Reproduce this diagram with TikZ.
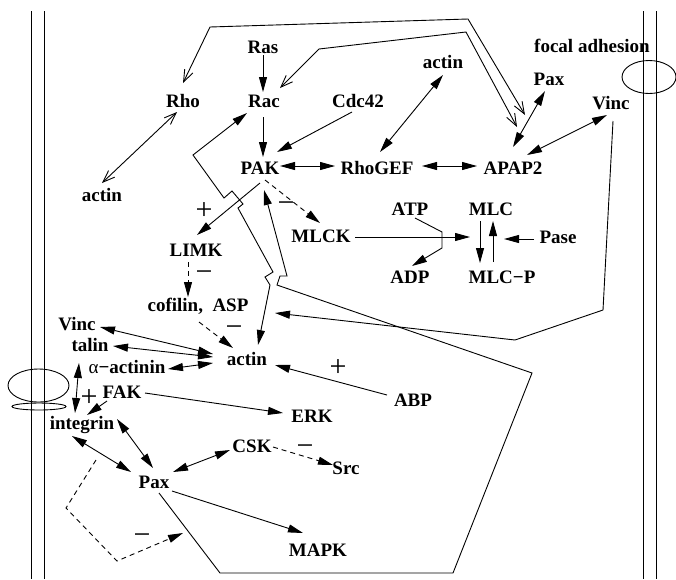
\documentclass[tikz,border=0pt]{standalone}
\usepackage{fontspec}
\setmainfont{Liberation Serif}
\usetikzlibrary{arrows.meta}
\begin{document}
\begin{tikzpicture}[x=1pt,y=-1pt,
  lab/.style={font=\bfseries\fontsize{19}{19}\selectfont, inner sep=0pt, anchor=base},
  sgn/.style={font=\fontsize{30}{30}\selectfont, inner sep=0pt},
  conn/.style={line width=0.9pt},
  arr/.style={conn, -{Triangle[length=15pt,width=8pt]}},
  darr/.style={conn, {Triangle[length=15pt,width=8pt]}-{Triangle[length=15pt,width=8pt]}},
  oarr/.style={conn, {Straight Barb[length=12pt,width=9pt]}-{Straight Barb[length=12pt,width=9pt]}},
  dsh/.style={dash pattern=on 5pt off 4pt},
  membrane/.style={line width=0.9pt}
]
\useasboundingbox (0,0) rectangle (676,579);

% cell membranes with adhesion sites
\draw[membrane] (31,11) -- (31,579);
\draw[membrane] (44,11) -- (44,579);
\draw[membrane] (643,11) -- (643,579);
\draw[membrane] (656,11) -- (656,579);
\draw[membrane] (649,77) ellipse [x radius=27pt, y radius=16.5pt];
\draw[membrane] (38.5,385.5) ellipse [x radius=30.5pt, y radius=16.5pt];
\draw[membrane] (39,406.5) ellipse [x radius=27pt, y radius=3.5pt];

% molecules
\node[lab] (ras) at (263,53) {Ras};
\node[lab] (rho) at (183,107) {Rho};
\node[lab] (rac) at (264,107) {Rac};
\node[lab] (cdc) at (358,107) {Cdc42};
\node[lab] (actT) at (443,68) {actin};
\node[lab] (focal) at (592,52) {focal adhesion};
\node[lab] (paxT) at (549,85) {Pax};
\node[lab] (vincT) at (611,109) {Vinc};
\node[lab] (pak) at (260,174) {PAK};
\node[lab] (rgef) at (377,174) {RhoGEF};
\node[lab] (apap) at (513,174) {APAP2};
\node[lab] (actL) at (102,201) {actin};
\node[lab] (atp) at (410,215) {ATP};
\node[lab] (mlc) at (491,215) {MLC};
\node[lab] (mlck) at (321,242) {MLCK};
\node[lab] (pase) at (558,243) {Pase};
\node[lab] (adp) at (410,283) {ADP};
\node[lab] (mlcp) at (502,283) {MLC−P};
\node[lab] (limk) at (196,256) {LIMK};
\node[lab] (cof) at (198,311) {cofilin,\ \ ASP};
\node[lab] (vincL) at (77,330) {Vinc};
\node[lab] (talin) at (90,351) {talin};
\node[lab] (aact) at (127,373) {{\mdseries α}−actinin};
\node[lab] (actC) at (247,365) {actin};
\node[lab] (abp) at (413,406) {ABP};
\node[lab] (fak) at (122,398) {FAK};
\node[lab] (erk) at (312,422) {ERK};
\node[lab] (integ) at (82,429) {integrin};
\node[lab] (csk) at (252,452) {CSK};
\node[lab] (src) at (346,474) {Src};
\node[lab] (paxB) at (154,488) {Pax};
\node[lab] (mapk) at (318,556) {MAPK};

% activation / inhibition marks
\node[sgn] (s1) at (204,211) {+};
\node[sgn] (s2) at (286,207) {−};
\node[sgn] (s3) at (204,276) {−};
\node[sgn] (s4) at (234,331) {−};
\node[sgn] (s5) at (338,368) {+};
\node[sgn] (s6) at (89,398) {+};
\node[sgn] (s7) at (305,450) {−};
\node[sgn] (s8) at (142,539) {−};

% upper signalling
\draw[arr] ([shift={(0,2)}]ras.base) -- ([shift={(-1,-15)}]rac.base);
\draw[arr] ([shift={(-1,10)}]rac.base) -- ([shift={(3,-17)}]pak.base);
\draw[arr] ([shift={(-6,5)}]cdc.base) -- ([shift={(17,-22)}]pak.base);
\draw[darr] ([shift={(20,-8)}]pak.base) -- ([shift={(-42,-8)}]rgef.base);
\draw[darr] ([shift={(45,-8)}]rgef.base) -- ([shift={(-36,-8)}]apap.base);
\draw[darr] ([shift={(3,-22)}]rgef.base) -- ([shift={(0,7)}]actT.base);
\draw[darr] ([shift={(0,-27)}]apap.base) -- ([shift={(-4,6)}]paxT.base);
\draw[darr] ([shift={(14,-19)}]apap.base) -- ([shift={(-4,6)}]vincT.base);
\draw[oarr] ([shift={(-6,5)}]rho.base) -- ([shift={(0,-18)}]actL.base);
\draw[oarr] ([shift={(0,-24)}]rho.base) -- (210,27) -- (468,19) -- ([shift={(12,-59)}]apap.base);
\draw[oarr] ([shift={(16,-19)}]rac.base) -- (319,49) -- (466,32) -- ([shift={(4,-47)}]apap.base);

% feedback loops through the cell body
\draw[darr] ([shift={(-17,6)}]rac.base) -- (193,155) -- (224,198) -- (232,191) -- (243,204)
  -- (238,208) -- (273,272) -- (265,277) -- (270,285) -- ([shift={(11,-20)}]actC.base);
\draw[arr] ([shift={(5,5)}]paxB.base) -- (220,573) -- (453,573) -- (532,373) -- (277,285)
  -- (280,276) -- (287,276) -- ([shift={(4,16)}]pak.base);
\draw[arr] ([shift={(2,12)}]vincT.base) -- (603,310) -- (515,340) -- ([shift={(28,-52)}]actC.base);

% PAK targets and myosin light chain
\draw[arr] ([shift={(0,9)}]pak.base) -- ([shift={(1,-21)}]limk.base);
\draw[arr,dsh] ([shift={(5,6)}]pak.base) -- ([shift={(-1,-19)}]mlck.base);
\draw[arr] ([shift={(34,-5)}]mlck.base) -- ([shift={(-21,22)}]mlc.base);
\draw[arr] ([shift={(5,3)}]atp.base) -- (442,232) -- (442,248) -- ([shift={(2,-17)}]adp.base);
\draw[arr] ([shift={(-11,6)}]mlc.base) -- ([shift={(-22,-20)}]mlcp.base);
\draw[arr] ([shift={(-9,-21)}]mlcp.base) -- ([shift={(2,6)}]mlc.base);
\draw[arr] ([shift={(-24,-4)}]pase.base) -- ([shift={(13,24)}]mlc.base);

% actin regulation
\draw[arr,dsh] ([shift={(-8,6)}]limk.base) -- ([shift={(-10,-14)}]cof.base);
\draw[arr,dsh] ([shift={(1,11)}]cof.base) -- ([shift={(-14,-17)}]actC.base);
\draw[darr] ([shift={(23,-3)}]vincL.base) -- ([shift={(-34,-11)}]actC.base);
\draw[darr] ([shift={(23,-5)}]talin.base) -- ([shift={(-34,-8)}]actC.base);
\draw[darr] ([shift={(41,-4)}]aact.base) -- ([shift={(-34,-2)}]actC.base);
\draw[arr] ([shift={(-26,-11)}]abp.base) -- ([shift={(28,0)}]actC.base);

% integrin complex
\draw[darr] ([shift={(-48,-10)}]aact.base) -- ([shift={(-7,-16)}]integ.base);
\draw[arr] ([shift={(-15,3)}]fak.base) -- ([shift={(5,-14)}]integ.base);
\draw[arr] ([shift={(23,-5)}]fak.base) -- ([shift={(-29,-9)}]erk.base);
\draw[darr] ([shift={(-10,7)}]integ.base) -- ([shift={(-23,-16)}]paxB.base);
\draw[darr] ([shift={(35,-10)}]integ.base) -- ([shift={(-1,-20)}]paxB.base);
\draw[darr] ([shift={(19,-16)}]paxB.base) -- ([shift={(-22,-2)}]csk.base);
\draw[arr,dsh] ([shift={(21,-5)}]csk.base) -- ([shift={(-13,-9)}]src.base);
\draw[arr] ([shift={(18,3)}]paxB.base) -- ([shift={(-15,-23)}]mapk.base);
\draw[arr,dsh] ([shift={(14,31)}]integ.base) -- (66,508) -- (117,561) -- ([shift={(29,45)}]paxB.base);
\end{tikzpicture}
\end{document}
